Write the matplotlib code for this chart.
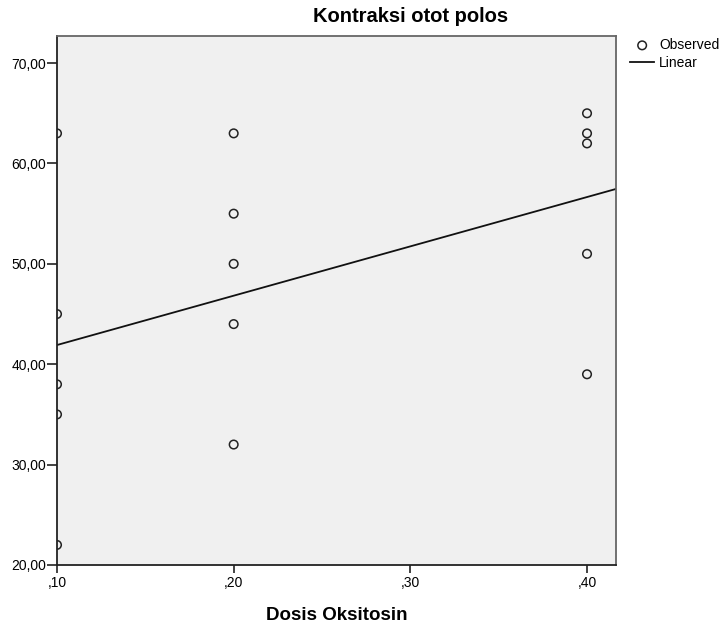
import numpy as np
import matplotlib
matplotlib.use('Agg')
import matplotlib.pyplot as plt

plt.rcParams['font.family'] = ['Liberation Sans', 'DejaVu Sans']

# data
dosis = [0.10, 0.10, 0.10, 0.10, 0.10,
         0.20, 0.20, 0.20, 0.20, 0.20,
         0.40, 0.40, 0.40, 0.40, 0.40]
kontraksi = [63, 45, 38, 35, 22,
             63, 55, 50, 44, 32,
             65, 63, 62, 51, 39]
x_ticks = [0.10, 0.20, 0.30, 0.40]
x_labels = [',10', ',20', ',30', ',40']
y_ticks = [20, 30, 40, 50, 60, 70]
y_labels = ['20,00', '30,00', '40,00', '50,00', '60,00', '70,00']

fig = plt.figure(figsize=(7.21, 6.23), dpi=100)
ax = fig.add_axes([57/721, 1 - 565/623, (616 - 57)/721, (565 - 36)/623])
ax.set_facecolor('#f0f0f0')

xmin, xmax = 0.10, 0.4164
ymin, ymax = 20, 72.7

# observed points
ax.scatter(dosis, kontraksi, s=38, facecolors='none', edgecolors='#222222',
           linewidths=1.1, label='Observed', zorder=3, clip_on=True)

# linear fit
b, a = np.polyfit(dosis, kontraksi, 1)
xl = np.array([xmin, xmax])
ax.plot(xl, a + b*xl, color='#111111', lw=1.3, label='Linear', zorder=2)

ax.set_xlim(xmin, xmax)
ax.set_ylim(ymin, ymax)
ax.set_xticks(x_ticks)
ax.set_xticklabels(x_labels)
ax.set_yticks(y_ticks)
ax.set_yticklabels(y_labels)
ax.tick_params(axis='both', direction='out', length=7, width=1.2, color='#222222',
               labelsize=10, pad=1)
ax.tick_params(axis='x', length=6, pad=2)

for s in ['left', 'bottom']:
    ax.spines[s].set_color('#222222')
    ax.spines[s].set_linewidth(1.3)
for s in ['top', 'right']:
    ax.spines[s].set_color('#666666')
    ax.spines[s].set_linewidth(1.3)

fig.text(411/721, 1 - 16/623, 'Kontraksi otot polos', ha='center', va='center',
         fontsize=14.5, fontweight='bold')
ax.set_xlabel('Dosis Oksitosin', fontsize=13.5, fontweight='bold', labelpad=12)

ax.legend(loc='upper left', bbox_to_anchor=(630/721, 1 - 38/623),
          bbox_transform=fig.transFigure, frameon=False, fontsize=10,
          handlelength=1.75, handletextpad=0.35, labelspacing=0.3,
          borderpad=0, borderaxespad=0)

fig.savefig('out.png', dpi=100)
